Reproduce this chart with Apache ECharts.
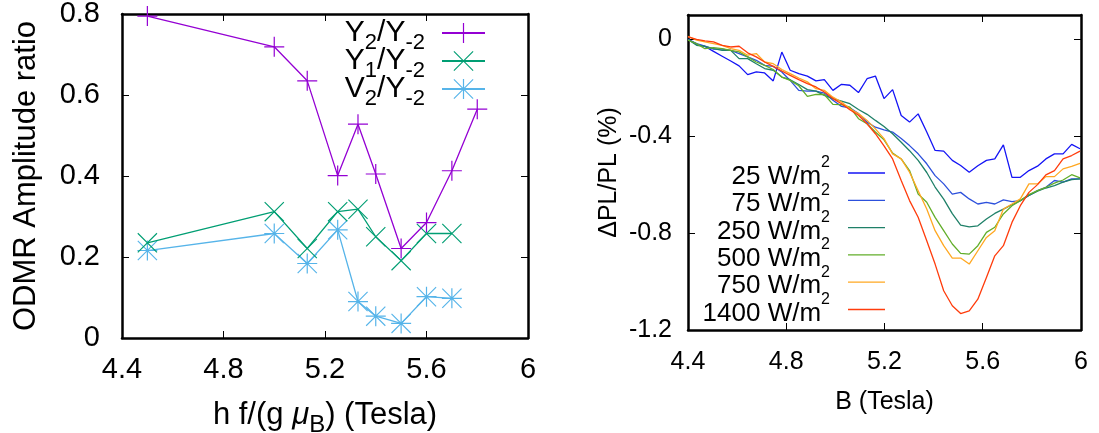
<!DOCTYPE html>
<html><head><meta charset="utf-8">
<script src="https://cdn.jsdelivr.net/npm/echarts@6/dist/echarts.min.js"></script>
<style>html,body{margin:0;padding:0;background:#fff}#c{width:1099px;height:433px}</style>
</head><body><div id="c"></div>
<script>
// ---- left panel data ----
const ratioX = [4.5, 5.0, 5.13, 5.25, 5.33, 5.4, 5.5, 5.6, 5.7, 5.8];
const ratioY2 = [0.795, 0.719, 0.635, 0.401, 0.528, 0.405, 0.221, 0.285, 0.413, 0.565];
const ratioX1 = [4.5, 5.0, 5.13, 5.25, 5.33, 5.4, 5.5, 5.6, 5.7];
const ratioY1 = [0.235, 0.312, 0.221, 0.312, 0.318, 0.250, 0.191, 0.258, 0.258];
const ratioV2 = [0.216, 0.258, 0.184, 0.267, 0.090, 0.054, 0.036, 0.102, 0.098];
const leftNames = ['Y2/Y-2', 'Y1/Y-2', 'V2/Y-2'];

// ---- right panel data ----
const fieldB = [4.400, 4.435, 4.469, 4.504, 4.539, 4.574, 4.608, 4.643, 4.678, 4.712,
  4.747, 4.782, 4.816, 4.851, 4.886, 4.921, 4.955, 4.990, 5.025, 5.059,
  5.094, 5.129, 5.163, 5.198, 5.233, 5.268, 5.302, 5.337, 5.372, 5.406,
  5.441, 5.476, 5.510, 5.545, 5.580, 5.615, 5.649, 5.684, 5.719, 5.753,
  5.788, 5.823, 5.857, 5.892, 5.927, 5.962, 5.996];
const pl25 = [0.0, -0.02, -0.03, -0.05, -0.07, -0.09, -0.11, -0.146, -0.135, -0.139,
  -0.172, -0.053, -0.128, -0.142, -0.152, -0.172, -0.167, -0.211, -0.186, -0.190,
  -0.22, -0.163, -0.152, -0.245, -0.208, -0.315, -0.342, -0.308, -0.383, -0.459,
  -0.462, -0.500, -0.521, -0.549, -0.522, -0.500, -0.494, -0.436, -0.570, -0.570,
  -0.542, -0.524, -0.494, -0.473, -0.473, -0.434, -0.452];
const pl75 = [0.0, -0.018, -0.028, -0.041, -0.041, -0.046, -0.059, -0.073, -0.087, -0.108,
  -0.112, -0.135, -0.170, -0.211, -0.214, -0.214, -0.222, -0.252, -0.277, -0.283,
  -0.307, -0.342, -0.363, -0.374, -0.383, -0.410, -0.439, -0.473, -0.514, -0.563,
  -0.597, -0.639, -0.632, -0.659, -0.680, -0.673, -0.680, -0.663, -0.670, -0.666,
  -0.645, -0.625, -0.611, -0.583, -0.590, -0.576, -0.576];
const pl250 = [-0.001, -0.025, -0.029, -0.039, -0.046, -0.046, -0.080, -0.080, -0.101, -0.121,
  -0.128, -0.156, -0.167, -0.187, -0.208, -0.214, -0.232, -0.245, -0.255, -0.266,
  -0.29, -0.31, -0.335, -0.36, -0.39, -0.425, -0.46, -0.50, -0.55, -0.61,
  -0.66, -0.72, -0.767, -0.774, -0.770, -0.742, -0.719, -0.701, -0.683, -0.666,
  -0.645, -0.627, -0.614, -0.604, -0.590, -0.579, -0.576];
const pl500 = [-0.004, -0.018, -0.039, -0.035, -0.039, -0.046, -0.052, -0.073, -0.094, -0.108,
  -0.125, -0.156, -0.170, -0.192, -0.236, -0.228, -0.228, -0.269, -0.270, -0.280,
  -0.328, -0.349, -0.383, -0.415, -0.47, -0.494, -0.542, -0.639, -0.673, -0.735,
  -0.790, -0.845, -0.884, -0.887, -0.852, -0.797, -0.776, -0.721, -0.687, -0.666,
  -0.641, -0.625, -0.611, -0.594, -0.581, -0.559, -0.572];
const pl750 = [0.012, -0.004, -0.011, -0.018, -0.025, -0.039, -0.046, -0.066, -0.059, -0.094,
  -0.101, -0.125, -0.142, -0.16, -0.176, -0.204, -0.211, -0.239, -0.259, -0.287,
  -0.307, -0.335, -0.370, -0.41, -0.473, -0.494, -0.549, -0.625, -0.701, -0.790,
  -0.852, -0.903, -0.903, -0.928, -0.873, -0.818, -0.790, -0.701, -0.680, -0.659,
  -0.597, -0.597, -0.567, -0.567, -0.535, -0.525, -0.512];
const pl1400 = [0.010, -0.001, -0.007, -0.011, -0.025, -0.032, -0.029, -0.056, -0.073, -0.094,
  -0.112, -0.131, -0.149, -0.167, -0.183, -0.197, -0.218, -0.245, -0.266, -0.291,
  -0.314, -0.349, -0.390, -0.44, -0.494, -0.583, -0.666, -0.735, -0.832, -0.928,
  -1.038, -1.100, -1.132, -1.121, -1.073, -0.983, -0.894, -0.852, -0.756, -0.687,
  -0.632, -0.600, -0.560, -0.542, -0.494, -0.480, -0.462];
const powerNames = ['25', '75', '250', '500', '750', '1400'];

// ---- tick settings ----
const leftXTicks = {min: 4.4, max: 6, interval: 0.4};
const leftYTicks = {min: 0, max: 0.8, interval: 0.2};
const rightXTicks = {min: 4.4, max: 6, interval: 0.4};
const rightYTicks = {min: -1.2, max: 0.1, interval: 0.4};

const F = 'Liberation Sans, Arial, Helvetica, sans-serif';
const PLUS = 'path://M0,47H100V53H0Z M47,0H53V100H47Z';
const CROSS = 'path://M0,4L4,0L100,96L96,100Z M96,0L100,4L4,100L0,96Z';
const STAR = 'path://M0,47H100V53H0Z M47,0H53V100H47Z M0,4L4,0L100,96L96,100Z M96,0L100,4L4,100L0,96Z';
const LINEICON = 'path://M0,0H100V3.4H0Z';
const leftColors = ['#9400d3', '#009e73', '#56b4e9'];
const rightColors = ['#1414f5', '#2c50dc', '#1f8068', '#62ae2a', '#ffa822', '#ff3c0c'];

const pairs = (xs, ys) => ys.map((v, i) => [xs[i], v]);

function frameAxes(grid, t, fs, margin, isX, name, nameGap, nameFs) {
  const base = {
    gridIndex: grid, type: 'value', min: t.min, max: t.max, interval: t.interval,
    splitLine: {show: false},
    axisLine: {show: true, onZero: false, lineStyle: {color: '#000', width: 2.5}},
    axisTick: {show: true, inside: true, length: 7, lineStyle: {color: '#000', width: 1}},
  };
  const main = Object.assign({}, base, {
    position: isX ? 'bottom' : 'left',
    axisLabel: {show: true, fontSize: fs, fontFamily: F, color: '#000', margin: margin, showMaxLabel: !(t.max === 0.1)},
    name: name, nameLocation: 'middle', nameGap: nameGap, nameMoveOverlap: false,
    nameTextStyle: {fontSize: nameFs, fontFamily: F, color: '#000', lineHeight: nameFs,
      rich: {
        n: {fontSize: nameFs, fontFamily: F, color: '#000', lineHeight: nameFs},
        mu: {fontSize: nameFs, fontFamily: F, fontStyle: 'italic', color: '#000', lineHeight: nameFs},
        sub: {fontSize: 24, fontFamily: F, color: '#000', lineHeight: 24, padding: [10, 0, -10, 0]}
      }}
  });
  const mirror = Object.assign({}, base, {
    position: isX ? 'top' : 'right', axisLabel: {show: false}
  });
  return [main, mirror];
}

const xAxes = [].concat(
  frameAxes(0, leftXTicks, 29, 17, true, '{n|h f/(g }{mu|μ}{sub|B}{n|) (Tesla)}', 62, 31),
  frameAxes(1, rightXTicks, 25, 20, true, 'B (Tesla)', 60, 25)
);
const yAxes = [].concat(
  frameAxes(0, leftYTicks, 29, 22, false, 'ODMR Amplitude ratio', 80, 31),
  frameAxes(1, rightYTicks, 25, 16, false, 'ΔPL/PL (%)', 66, 25)
);

const leftLegendText = {
  'Y2/Y-2': '{m|Y}{s|2}{m|/Y}{e|-2}',
  'Y1/Y-2': '{m|Y}{s|1}{m|/Y}{e|-2}',
  'V2/Y-2': '{m|V}{s|2}{m|/Y}{e|-2}'
};

const leftSymbols = [PLUS, CROSS, STAR];
const leftY = [ratioY2, ratioY1, ratioV2];
const leftX = [ratioX, ratioX1, ratioX1];

const series = [];
leftNames.forEach((n, k) => {
  series.push({
    name: n, type: 'line', xAxisIndex: 0, yAxisIndex: 0,
    data: pairs(leftX[k], leftY[k]),
    symbol: leftSymbols[k], symbolSize: 20, showSymbol: true,
    lineStyle: {color: leftColors[k], width: 1.3},
    itemStyle: {color: leftColors[k], borderWidth: 0},
    emphasis: {disabled: true}, z: 3 - k
  });
});
const rightY = [pl25, pl75, pl250, pl500, pl750, pl1400];
powerNames.forEach((n, k) => {
  series.push({
    name: n + ' W/m2', type: 'line', xAxisIndex: 2, yAxisIndex: 2,
    data: pairs(fieldB, rightY[k]),
    symbol: 'none', showSymbol: false,
    lineStyle: {color: rightColors[k], width: 1.3},
    itemStyle: {color: rightColors[k]},
    emphasis: {disabled: true}
  });
});

const chart = echarts.init(document.getElementById('c'), null, {renderer: 'canvas'});
chart.setOption({
  animation: false,
  backgroundColor: '#fff',
  grid: [
    {left: 122, top: 14, width: 406, height: 324, containLabel: false, outerBoundsMode: 'none'},
    {left: 688, top: 15, width: 393, height: 315, containLabel: false, outerBoundsMode: 'none'}
  ],
  xAxis: xAxes,
  yAxis: yAxes,
  legend: [
    {
      data: leftNames, orient: 'vertical', right: 608, top: 13, align: 'right',
      itemWidth: 43, itemHeight: 25, itemGap: -8, selectedMode: false,
      formatter: n => leftLegendText[n],
      textStyle: {fontFamily: F, fontSize: 30, color: '#000', lineHeight: 30,
        rich: {
          m: {fontFamily: F, fontSize: 30, color: '#000', lineHeight: 30},
          s: {fontFamily: F, fontSize: 22, color: '#000', lineHeight: 22, padding: [10, 0, -10, 0]},
          e: {fontFamily: F, fontSize: 22, color: '#000', lineHeight: 22, padding: [10, 12, -10, 0]}
        }}
    },
    {
      data: powerNames.map(n => n + ' W/m2'), orient: 'vertical', right: 209, top: 150, align: 'right',
      itemWidth: 37, itemHeight: 14, itemGap: -7.7, selectedMode: false, icon: LINEICON,
      formatter: n => '{m|' + n.replace('m2', 'm') + '}{p|2}',
      textStyle: {fontFamily: F, fontSize: 26, color: '#000', lineHeight: 26,
        rich: {
          m: {fontFamily: F, fontSize: 26, color: '#000', lineHeight: 26, padding: [4, 0, -4, 0]},
          p: {fontFamily: F, fontSize: 16, color: '#000', lineHeight: 16, padding: [-10, 13, 10, 0]}
        }}
    }
  ],
  series: series
});
</script></body></html>
